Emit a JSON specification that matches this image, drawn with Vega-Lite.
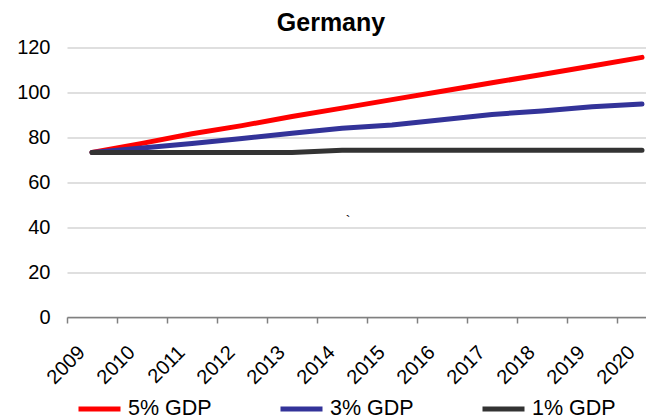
{
  "$schema": "https://vega.github.io/schema/vega-lite/v6.json",
  "autosize": "none",
  "padding": {"left": 67, "top": 47.5, "right": 0, "bottom": 100},
  "width": 600,
  "height": 269.5,
  "config": {"font": "Liberation Sans", "view": {"stroke": null}},
  "title": {"text": "Germany", "fontSize": 25, "fontWeight": "bold", "color": "black", "anchor": "middle", "frame": "group", "dx": -36, "baseline": "alphabetic", "offset": -18.5},
  "datasets": {
    "series": [
      {"year": "2009", "scenario": "5% GDP", "debt": 73.3},
      {"year": "2010", "scenario": "5% GDP", "debt": 77.3},
      {"year": "2011", "scenario": "5% GDP", "debt": 81.6},
      {"year": "2012", "scenario": "5% GDP", "debt": 85.2},
      {"year": "2013", "scenario": "5% GDP", "debt": 89.3},
      {"year": "2014", "scenario": "5% GDP", "debt": 93.0},
      {"year": "2015", "scenario": "5% GDP", "debt": 96.8},
      {"year": "2016", "scenario": "5% GDP", "debt": 100.5},
      {"year": "2017", "scenario": "5% GDP", "debt": 104.3},
      {"year": "2018", "scenario": "5% GDP", "debt": 108.0},
      {"year": "2019", "scenario": "5% GDP", "debt": 111.8},
      {"year": "2020", "scenario": "5% GDP", "debt": 115.6},
      {"year": "2009", "scenario": "3% GDP", "debt": 73.3},
      {"year": "2010", "scenario": "3% GDP", "debt": 75.2},
      {"year": "2011", "scenario": "3% GDP", "debt": 77.3},
      {"year": "2012", "scenario": "3% GDP", "debt": 79.5},
      {"year": "2013", "scenario": "3% GDP", "debt": 81.8},
      {"year": "2014", "scenario": "3% GDP", "debt": 84.0},
      {"year": "2015", "scenario": "3% GDP", "debt": 85.5},
      {"year": "2016", "scenario": "3% GDP", "debt": 87.8},
      {"year": "2017", "scenario": "3% GDP", "debt": 90.2},
      {"year": "2018", "scenario": "3% GDP", "debt": 91.7},
      {"year": "2019", "scenario": "3% GDP", "debt": 93.6},
      {"year": "2020", "scenario": "3% GDP", "debt": 94.8},
      {"year": "2009", "scenario": "1% GDP", "debt": 73.3},
      {"year": "2010", "scenario": "1% GDP", "debt": 73.3},
      {"year": "2011", "scenario": "1% GDP", "debt": 73.3},
      {"year": "2012", "scenario": "1% GDP", "debt": 73.3},
      {"year": "2013", "scenario": "1% GDP", "debt": 73.3},
      {"year": "2014", "scenario": "1% GDP", "debt": 74.2},
      {"year": "2015", "scenario": "1% GDP", "debt": 74.2},
      {"year": "2016", "scenario": "1% GDP", "debt": 74.2},
      {"year": "2017", "scenario": "1% GDP", "debt": 74.2},
      {"year": "2018", "scenario": "1% GDP", "debt": 74.2},
      {"year": "2019", "scenario": "1% GDP", "debt": 74.2},
      {"year": "2020", "scenario": "1% GDP", "debt": 74.2}
    ],
    "mark": [
      {"year": "2014", "debt": 42.5, "label": "`"}
    ]
  },
  "layer": [
    {
      "data": {"name": "series"},
      "mark": {"type": "line", "strokeWidth": 5, "strokeCap": "round", "strokeJoin": "round"},
      "encoding": {
        "x": {
          "field": "year", "type": "ordinal", "bandPosition": 0.5,
          "scale": {"type": "band", "paddingInner": 0, "paddingOuter": 0},
          "axis": {
            "title": null, "bandPosition": 0, "labelAngle": -45, "labelAlign": "right", "labelBaseline": "middle",
            "labelOffset": -10, "labelPadding": 26, "labelFontSize": 20, "labelColor": "black",
            "domainColor": "#808080", "domainWidth": 1.5, "tickColor": "#808080", "tickWidth": 1.5, "tickSize": 6,
            "grid": false
          }
        },
        "y": {
          "field": "debt", "type": "quantitative",
          "scale": {"domain": [0, 120], "nice": false, "zero": true},
          "axis": {
            "title": null, "values": [0, 20, 40, 60, 80, 100, 120], "domain": false, "ticks": false,
            "labelPadding": 17, "labelFontSize": 20, "labelColor": "black",
            "gridColor": "#d4d4d4", "gridWidth": 1.5
          }
        },
        "color": {
          "field": "scenario", "type": "nominal",
          "scale": {"domain": ["5% GDP", "3% GDP", "1% GDP"], "range": ["#ff0000", "#333399", "#333333"]},
          "legend": {
            "title": null, "orient": "none", "direction": "horizontal", "legendX": 9, "legendY": 338,
            "symbolType": "stroke", "symbolSize": 1764, "symbolStrokeWidth": 5,
            "labelFontSize": 21.5, "labelColor": "black", "labelOffset": 5, "columnPadding": 58, "labelLimit": 200
          }
        },
        "detail": {"field": "scenario"}
      }
    },
    {
      "data": {"name": "mark"},
      "mark": {"type": "text", "fontSize": 14, "color": "black", "dx": 6},
      "encoding": {
        "x": {"field": "year", "type": "ordinal", "bandPosition": 0.5},
        "y": {"field": "debt", "type": "quantitative"},
        "text": {"field": "label"}
      }
    }
  ]
}
